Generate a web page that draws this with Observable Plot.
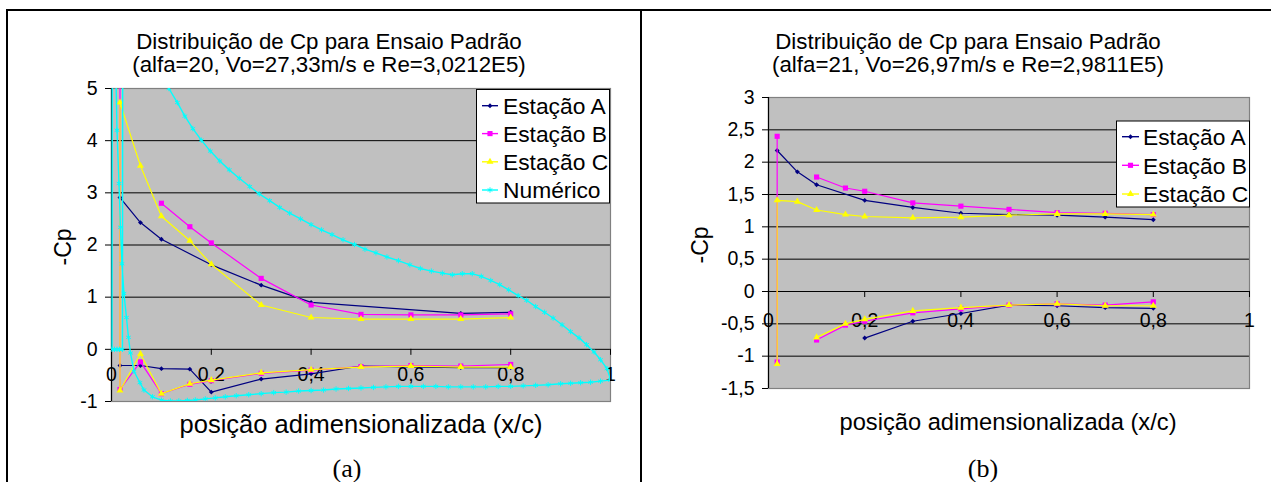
<!DOCTYPE html>
<html><head><meta charset="utf-8">
<script src="https://cdn.jsdelivr.net/npm/d3@7"></script>
<script src="https://cdn.jsdelivr.net/npm/@observablehq/plot@0.6"></script>
<style>
body{margin:0;background:#fff;}
#fig{position:relative;width:1271px;height:482px;overflow:hidden;background:#fff;font-family:"Liberation Sans",Arial,sans-serif;}
#fig > svg{position:absolute;}
</style></head><body><div id="fig"></div>
<script>
// ---------- shared ----------
const xTicks = [0, 0.2, 0.4, 0.6, 0.8, 1];
const yTicksA = [-1, 0, 1, 2, 3, 4, 5];
const yTicksB = [-1.5, -1, -0.5, 0, 0.5, 1, 1.5, 2, 2.5, 3];
const seriesNames = ["Estação A", "Estação B", "Estação C", "Numérico"];
const seriesColors = ["#000080", "#FF00FF", "#FFFF00", "#00FFFF"];
const seriesSymbols = ["diamond2", "square", "triangle", "asterisk"];
const seriesR = [2.2, 2.9, 2.6, 2.5];

// ---------- panel (a): alfa=20 ----------
const stationsA = [0.017, 0.058, 0.1, 0.157, 0.2, 0.3, 0.4, 0.5, 0.6, 0.7, 0.8];
const aA_upperX = [0.017, 0.058, 0.1, 0.2, 0.3, 0.4, 0.7, 0.8];
const aA_upperCp = [2.91, 2.43, 2.11, 1.62, 1.23, 0.90, 0.69, 0.71];
const aA_lowerX = [0.017, 0.058, 0.1, 0.157, 0.2, 0.3, 0.4, 0.5, 0.7, 0.8];
const aA_lowerCp = [-0.31, -0.31, -0.37, -0.38, -0.82, -0.57, -0.47, -0.32, -0.35, -0.35];
const aB_upperCp = [6.5, null, 2.80, 2.35, 2.04, 1.36, 0.85, 0.67, 0.66, 0.66, 0.68];
const aB_lowerCp = [-0.77, -0.24, -0.85, -0.67, -0.60, -0.46, -0.40, -0.33, -0.31, -0.32, -0.29];
const aC_upperCp = [4.73, 3.52, 2.55, 2.08, 1.63, 0.85, 0.61, 0.58, 0.58, 0.58, 0.61];
const aC_lowerCp = [-0.79, -0.09, -0.85, -0.66, -0.59, -0.45, -0.39, -0.34, -0.32, -0.34, -0.34];
// numerical solution, in panel order (lower surface TE -> LE -> upper surface -> TE)
const aNumX = [1.0, 0.98, 0.96, 0.94, 0.92, 0.90, 0.875, 0.85, 0.825, 0.80, 0.775, 0.75, 0.725, 0.70, 0.675, 0.65, 0.625, 0.60, 0.575, 0.55, 0.525, 0.50, 0.475, 0.45, 0.425, 0.40, 0.375, 0.35, 0.325, 0.30, 0.275, 0.25, 0.228, 0.208, 0.188, 0.168, 0.152, 0.135, 0.118, 0.10, 0.082, 0.065, 0.057, 0.045, 0.038, 0.034, 0.030, 0.025, 0.021, 0.018, 0.015, 0.011, 0.007, 0.002,
  0.001, 0.006, 0.011, 0.016, 0.022,
  0.023, 0.05, 0.08, 0.10, 0.115, 0.132, 0.147, 0.163, 0.180, 0.198, 0.217, 0.236, 0.256, 0.277, 0.296, 0.317, 0.337, 0.357, 0.379, 0.40, 0.421, 0.442, 0.464, 0.487, 0.508, 0.53, 0.552, 0.575, 0.598, 0.619, 0.641, 0.663, 0.683, 0.703, 0.723, 0.741, 0.760, 0.778, 0.796, 0.815, 0.832, 0.850, 0.868, 0.885, 0.903, 0.920, 0.937, 0.952, 0.967, 0.980, 0.993, 1.0];
const aNumCp = [-0.59, -0.61, -0.63, -0.64, -0.65, -0.66, -0.68, -0.69, -0.70, -0.71, -0.71, -0.72, -0.72, -0.72, -0.72, -0.71, -0.71, -0.71, -0.71, -0.72, -0.73, -0.74, -0.75, -0.76, -0.78, -0.79, -0.80, -0.82, -0.83, -0.85, -0.87, -0.89, -0.91, -0.93, -0.95, -0.97, -0.98, -0.99, -0.99, -0.975, -0.91, -0.78, -0.64, -0.42, -0.07, 0.23, 0.61, 1.07, 1.64, 2.34, 3.18, 4.2, 6.2, 12,
  0, 0, 0, 0, 0,
  12, 9.5, 6.9, 5.6, 5.0, 4.73, 4.47, 4.23, 4.01, 3.80, 3.61, 3.44, 3.28, 3.12, 2.98, 2.85, 2.72, 2.61, 2.50, 2.39, 2.29, 2.20, 2.10, 2.01, 1.92, 1.85, 1.77, 1.70, 1.62, 1.55, 1.50, 1.46, 1.43, 1.45, 1.45, 1.40, 1.32, 1.24, 1.14, 1.03, 0.94, 0.82, 0.71, 0.60, 0.47, 0.34, 0.22, 0.09, -0.05, -0.20, -0.37, -0.58];

// ---------- panel (b): alfa=21 ----------
const stationsB = [0.018, 0.06, 0.1, 0.16, 0.2, 0.3, 0.4, 0.5, 0.6, 0.7, 0.8];
const bA_upperX = [0.018, 0.06, 0.1, 0.2, 0.3, 0.4, 0.5, 0.6, 0.7, 0.8];
const bA_upperCp = [2.18, 1.85, 1.65, 1.41, 1.30, 1.21, 1.19, 1.18, 1.15, 1.11];
const bA_lowerX = [0.2, 0.3, 0.4, 0.5, 0.6, 0.7, 0.8];
const bA_lowerCp = [-0.72, -0.46, -0.34, -0.21, -0.22, -0.25, -0.26];
const bB_upperCp = [2.40, null, 1.77, 1.60, 1.55, 1.37, 1.32, 1.27, 1.22, 1.21, 1.19];
const bB_lowerCp = [-1.09, null, -0.75, -0.52, -0.46, -0.33, -0.27, -0.21, -0.19, -0.21, -0.16];
const bC_upperCp = [1.41, 1.39, 1.26, 1.19, 1.16, 1.14, 1.15, 1.18, 1.20, 1.20, 1.19];
const bC_lowerCp = [-1.12, null, -0.71, -0.50, -0.43, -0.30, -0.25, -0.21, -0.19, -0.22, -0.22];

// ---------- helpers ----------
const fmt = d => String(d).replace(".", ",");
// upper surface walked from trailing edge to leading edge, then lower surface back
function path(upX, upCp, loX, loCp, join) {
  const rows = [];
  for (let i = upX.length - 1; i >= 0; i--) rows.push({x: upX[i], cp: upCp[i]});
  if (!join) rows.push({x: loX[0], cp: null});
  for (let i = 0; i < loX.length; i++) rows.push({x: loX[i], cp: loCp[i]});
  return rows;
}
const pairs = (X, Y) => X.map((x, i) => ({x, cp: Y[i]}));

function seriesMarks(rows, k) {
  const pts = rows.filter(d => d.cp != null);
  const stroke = seriesColors[k];
  const dot = seriesSymbols[k] === "asterisk"
    ? {x: "x", y: "cp", symbol: "asterisk", r: seriesR[k], stroke, fill: "none", strokeWidth: 1, clip: true}
    : {x: "x", y: "cp", symbol: seriesSymbols[k], r: seriesR[k], fill: stroke, stroke: "none", clip: true};
  return [
    Plot.line(rows, {x: "x", y: "cp", stroke, strokeWidth: k === 3 ? 1.4 : 1.2, clip: true}),
    Plot.dot(pts, dot)
  ];
}

function panel({yDomain, yTicks, series, left, width, margins, tickDy}) {
  const svg = Plot.plot({
    width, height: 482,
    marginLeft: margins[0], marginRight: margins[1], marginTop: margins[2], marginBottom: margins[3],
    x: {domain: [0, 1], axis: null},
    y: {domain: yDomain, axis: null},
    style: {background: "transparent", fontFamily: '"Liberation Sans", Arial, sans-serif', fontSize: "19.5px", color: "black", overflow: "visible"},
    marks: [
      Plot.frame({fill: "#C0C0C0", stroke: "none"}),
      Plot.gridY(yTicks, {stroke: "black", strokeOpacity: 1, strokeWidth: 1}),
      Plot.frame({stroke: "#808080", strokeWidth: 1.2}),
      Plot.ruleX([0], {stroke: "black", strokeWidth: 1.2}),
      Plot.axisY(yTicks, {tickSize: 6, tickPadding: 8, tickFormat: fmt, fontSize: 19.5, label: null, stroke: "black"}),
      Plot.ruleX(xTicks, {x: d => d, y1: d => 0, y2: d => 0, insetBottom: -6, stroke: "black"}),
      Plot.text(xTicks, {x: d => d, y: d => 0, dy: tickDy, text: fmt, fontSize: 19.5, fill: "black"}),
      ...series.flatMap(([rows, k]) => seriesMarks(rows, k))
    ]
  });
  svg.style.left = left + "px";
  svg.style.top = "0px";
  return svg;
}

const fig = document.getElementById("fig");

fig.appendChild(panel({
  yDomain: [-1, 5], yTicks: yTicksA, left: 0, width: 637,
  margins: [111, 27, 88, 81], tickDy: 25,
  series: [
    [path(aA_upperX, aA_upperCp, aA_lowerX, aA_lowerCp, false), 0],
    [path(stationsA, aB_upperCp, stationsA, aB_lowerCp, true), 1],
    [path(stationsA, aC_upperCp, stationsA, aC_lowerCp, true), 2],
    [pairs(aNumX, aNumCp), 3]
  ]
}));

fig.appendChild(panel({
  yDomain: [-1.5, 3], yTicks: yTicksB, left: 642, width: 629,
  margins: [126, 22, 97, 94], tickDy: 29,
  series: [
    [path(bA_upperX, bA_upperCp, bA_lowerX, bA_lowerCp, false), 0],
    [path(stationsB, bB_upperCp, stationsB, bB_lowerCp, true), 1],
    [path(stationsB, bC_upperCp, stationsB, bC_lowerCp, true), 2]
  ]
}));

// ---------- annotations: titles, axis titles, legends, frame lines ----------
const ov = d3.select(fig).append("svg")
  .attr("width", 1271).attr("height", 482)
  .style("left", "0px").style("top", "0px")
  .style("font-family", '"Liberation Sans", Arial, sans-serif');

// figure frame
ov.append("line").attr("x1", 6).attr("x2", 1271).attr("y1", 10).attr("y2", 10).attr("stroke", "black").attr("stroke-width", 2);
ov.append("line").attr("x1", 7).attr("x2", 7).attr("y1", 9).attr("y2", 482).attr("stroke", "black").attr("stroke-width", 2);
ov.append("line").attr("x1", 641).attr("x2", 641).attr("y1", 9).attr("y2", 482).attr("stroke", "black").attr("stroke-width", 2);

function txt(x, y, s, size, opts = {}) {
  const t = ov.append("text").attr("x", x).attr("y", y).text(s)
    .attr("font-size", size).attr("text-anchor", opts.anchor || "middle").attr("fill", "black");
  if (opts.family) t.attr("font-family", opts.family);
  if (opts.rotate) t.attr("transform", `rotate(-90 ${x} ${y})`).attr("dominant-baseline", "central");
  return t;
}
const titles = [
  {cx: 329, l1: "Distribuição de Cp para Ensaio Padrão", l2: "(alfa=20, Vo=27,33m/s e Re=3,0212E5)", ycx: 63, ycy: 247, xcx: 361, xy: 433, xs: 25.5, cap: "(a)", capx: 347},
  {cx: 968, l1: "Distribuição de Cp para Ensaio Padrão", l2: "(alfa=21, Vo=26,97m/s e Re=2,9811E5)", ycx: 700, ycy: 245, xcx: 1008, xy: 430, xs: 23.7, cap: "(b)", capx: 983}
];
for (const t of titles) {
  txt(t.cx, 49, t.l1, 22.3);
  txt(t.cx, 72, t.l2, 22.3);
  txt(t.ycx, t.ycy, "-Cp", 23, {rotate: true});
  txt(t.xcx, t.xy, "posição adimensionalizada (x/c)", t.xs);
  txt(t.capx, 477, t.cap, 26, {family: '"Liberation Serif", "Times New Roman", serif'});
}

const symbolTypes = {diamond2: d3.symbolDiamond2, square: d3.symbolSquare, triangle: d3.symbolTriangle, asterisk: d3.symbolAsterisk};
function legend(x, y, w, h, rowsY, n, textX, lineX1, lineX2) {
  ov.append("rect").attr("x", x).attr("y", y).attr("width", w).attr("height", h)
    .attr("fill", "white").attr("stroke", "black").attr("stroke-width", 1);
  for (let k = 0; k < n; k++) {
    const cy = rowsY[k], c = seriesColors[k];
    ov.append("line").attr("x1", lineX1).attr("x2", lineX2).attr("y1", cy).attr("y2", cy)
      .attr("stroke", c).attr("stroke-width", 1.4);
    const sym = seriesSymbols[k];
    const p = ov.append("path").attr("transform", `translate(${(lineX1 + lineX2) / 2},${cy})`)
      .attr("d", d3.symbol(symbolTypes[sym], Math.PI * seriesR[k] * seriesR[k])());
    if (sym === "asterisk") p.attr("fill", "none").attr("stroke", c).attr("stroke-width", 1);
    else p.attr("fill", c);
    txt(textX, cy, seriesNames[k], 22.8, {anchor: "start"}).attr("dy", "0.36em");
  }
}
legend(476.5, 89.5, 133, 113.5, [105.7, 133.6, 161.8, 190], 4, 503, 482, 498);
legend(1116.5, 121, 133, 86, [136.7, 165.3, 194], 3, 1143, 1122, 1139);
</script></body></html>
